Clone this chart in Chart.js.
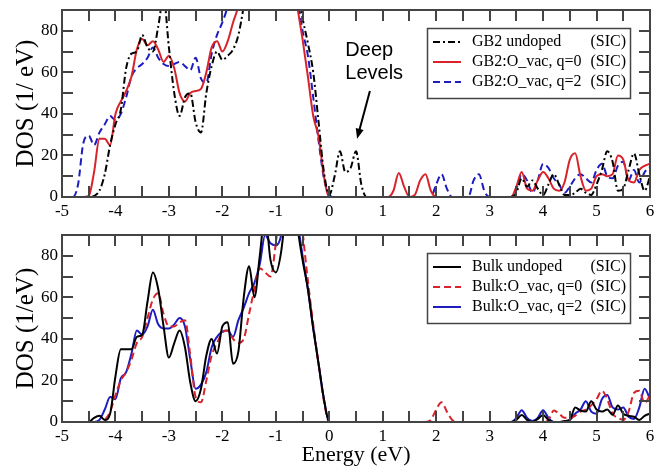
<!DOCTYPE html>
<html>
<head>
<meta charset="utf-8">
<title>DOS</title>
<script src="https://cdn.jsdelivr.net/npm/chart.js@4.4.1/dist/chart.umd.min.js"></script>
<style>
  html, body { margin: 0; padding: 0; background: #fff; }
  #wrap { position: relative; width: 668px; height: 466px; }
  canvas { position: absolute; left: 0; }
  #topChart { top: 0; }
  #bottomChart { top: 225px; }
</style>
</head>
<body>
<div id="wrap">
  <canvas id="topChart" width="668" height="225"></canvas>
  <canvas id="bottomChart" width="668" height="241"></canvas>
</div>
<script>
// Energy grid (eV), 0.1 eV steps from -5 to 6
const energy = Array.from({ length: 111 }, (_, i) => Math.round((-50 + i)) / 10);

const xTicks = [-5, -4, -3, -2, -1, 0, 1, 2, 3, 4, 5, 6];
const yTicks = [0, 20, 40, 60, 80];

// Grain boundary GB2 (top panel)
const gb2Undoped = [
  0, 0, 0, 0, 0, 0, 0.5, 3, 11, 25,
  35, 42, 62, 69, 70, 78, 72, 70, 82, 96,
  72, 50, 39, 48, 50, 36, 31, 50, 63, 70,
  66, 68, 71, 78, 92, 110, 125, 135, 140, 140,
  140, 140, 135, 125, 100, 86, 74, 60, 36, 12,
  1, 10, 22, 12, 14, 22, 6, 0, 0, 0,
  0, 0, 0, 0, 0, 0, 0, 0, 0, 0,
  0, 0, 0, 0, 0, 0, 0, 0, 0, 0,
  0, 0, 0, 0, 0, 2, 9, 5, 8, 4,
  1, 6, 11, 6, 1, 1, 2, 4, 2, 1,
  6, 13, 22, 17, 3, 4, 13, 21, 11, 3,
  10
];
const gb2VacQ0 = [
  0, 0, 0, 0, 0, 0.5, 12, 28, 28, 25,
  40, 46, 51, 58, 71, 76, 73, 75, 71, 65,
  68, 62, 50, 46, 50, 51, 52, 60, 72, 75,
  70, 75, 84, 92, 105, 120, 130, 135, 140, 140,
  140, 135, 125, 110, 92, 76, 58, 39, 29, 10,
  0, 0, 0, 0, 0, 0, 0, 0, 0, 0,
  0, 0, 3, 11.5, 5, 0, 1, 8, 11, 3,
  0, 0, 0, 0, 0, 0, 0, 0, 0, 0,
  0, 0, 0, 0, 0, 5, 12, 4, 3, 8,
  12, 9, 4, 3, 7, 18, 21, 10, 3, 4,
  10, 11, 10, 11, 20, 18, 8, 7, 13, 15,
  16
];
const gb2VacQ2 = [
  0, 0, 0, 6, 26, 29.5, 25, 31, 35, 39,
  37, 40, 48, 58, 62, 64, 67, 72, 67, 64,
  63, 64, 65, 63, 61, 67, 57, 55, 69, 78,
  84, 92, 105, 120, 130, 135, 140, 140, 140, 140,
  140, 135, 125, 112, 96, 80, 68, 48, 27, 9,
  1, 0, 0, 0, 0, 0, 0, 0, 0, 0,
  0, 0, 0, 0, 0, 0, 0, 0, 0, 0,
  6, 11, 4, 0, 0, 0, 0, 8, 11, 3,
  0, 0, 0, 0, 0, 4, 11, 8, 2, 8,
  16, 14, 9, 6, 2, 5, 9, 11, 9, 7,
  13, 16, 10, 9, 15, 17, 8, 13, 7, 12,
  14.5
];

// Bulk (bottom panel)
const bulkUndoped = [
  0, 0, 0, 0, 0, 0, 2, 3, 1, 4,
  22, 35, 35, 35, 41, 42, 58, 72, 64, 46,
  31, 38, 44, 36, 19, 10, 16, 32, 40, 33,
  46, 48, 28, 34, 60, 75, 60, 80, 100, 78,
  72, 82, 105, 120, 95, 78, 64, 45, 28, 11,
  0, 0, 0, 0, 0, 0, 0, 0, 0, 0,
  0, 0, 0, 0, 0, 0, 0, 0, 0, 0,
  0, 0, 0, 0, 0, 0, 0, 0, 0, 0,
  0, 0, 0, 0, 0, 1, 3.4, 1, 0, 1.5,
  3.4, 1, 0, 0, 0.5, 1, 7, 5.5, 5, 10,
  6, 5, 6, 3.5, 8, 4, 3, 2.5, 1, 3,
  4
];
const bulkVacQ0 = [
  0, 0, 0, 0, 0, 0, 0, 0, 1, 5,
  13, 20, 24, 30, 38, 41, 50, 59, 62, 52,
  46, 46, 48, 49, 32, 12, 9.5, 20, 32, 38,
  43, 44, 40, 38, 40, 52, 64, 74, 72, 70,
  86, 110, 130, 130, 118, 92, 68, 47, 28, 10,
  0, 0, 0, 0, 0, 0, 0, 0, 0, 0,
  0, 0, 0, 0, 0, 0, 0, 0, 0, 1,
  6, 9.5, 5, 1, 0, 0, 0, 0, 0, 0,
  0, 0, 0, 0, 0, 0, 0, 0, 0, 0,
  0, 1, 5.5, 4, 2, 2, 3, 5, 6, 8,
  11, 15, 11, 4, 2, 1, 5, 14, 15, 9,
  13
];
const bulkVacQ2 = [
  0, 0, 0, 0, 0, 0, 0, 1, 6, 12,
  11, 21, 24, 33, 44, 42, 46, 54, 47, 45,
  45, 47, 50, 46, 30, 16, 18, 24, 36, 41,
  43.5, 44, 41, 49, 55, 62, 67, 76, 90, 86,
  85, 90, 110, 120, 98, 80, 64, 45, 28, 11,
  0, 0, 0, 0, 0, 0, 0, 0, 0, 0,
  0, 0, 0, 0, 0, 0, 0, 0, 0, 0,
  0, 0, 0, 0, 0, 0, 0, 0, 0, 0,
  0, 0, 0, 0, 0, 2, 5.7, 2, 0.5, 2,
  5.7, 2, 0, 0, 0, 1, 4, 6, 10, 5,
  4, 11, 13, 7, 6, 7, 2.5, 1.5, 7, 16,
  11
];

const topLabels = ['GB2 undoped', 'GB2:O_vac, q=0', 'GB2:O_vac, q=2'];
const bottomLabels = ['Bulk undoped', 'Bulk:O_vac, q=0', 'Bulk:O_vac, q=2'];
const method = '(SIC)';

const SERIF = '"Liberation Serif", "Times New Roman", serif';
const SANS = '"Liberation Sans", Arial, sans-serif';
const RED = '#d8232a';
const BLUE = '#1c1cc0';
const FRAME = '#444';
const TICK_LEN = 11;

// tick mark positions: every 0.5 eV on x, every 10 on y
const xMarks = [];
for (let i = -9; i <= 11; i++) xMarks.push(i / 2);
const yMarks = [10, 20, 30, 40, 50, 60, 70, 80];

function toPoints(values) {
  return values.map((v, i) => ({ x: energy[i], y: v }));
}

function series(label, values, color, dash) {
  return {
    label: label,
    data: toPoints(values),
    borderColor: color,
    borderDash: dash,
    borderWidth: 2,
    pointRadius: 0,
    fill: false,
    cubicInterpolationMode: 'monotone'
  };
}

// Frame around the plot plus inward tick marks on all four sides
const frameTicks = {
  id: 'frameTicks',
  afterDraw(chart) {
    const ctx = chart.ctx;
    const a = chart.chartArea;
    const xs = chart.scales.x, ys = chart.scales.y;
    ctx.save();
    ctx.strokeStyle = FRAME;
    ctx.lineWidth = 2;
    ctx.strokeRect(a.left, a.top, a.right - a.left, a.bottom - a.top);
    ctx.fillStyle = FRAME;
    xMarks.forEach(v => {
      const px = Math.round(xs.getPixelForValue(v));
      ctx.fillRect(px - 1, a.bottom - TICK_LEN, 2, TICK_LEN);
      ctx.fillRect(px - 1, a.top, 2, TICK_LEN);
    });
    yMarks.forEach(v => {
      const py = Math.round(ys.getPixelForValue(v));
      ctx.fillRect(a.left, py - 1, TICK_LEN, 2);
      ctx.fillRect(a.right - TICK_LEN, py - 1, TICK_LEN, 2);
    });
    ctx.restore();
  }
};

// Boxed legend in the upper right, method tag right-aligned
const boxLegend = {
  id: 'boxLegend',
  afterDraw(chart) {
    const { ctx, chartArea: a } = chart;
    const w = 203, h = 70;
    const left = a.right - 20 - w, top = a.top + 18;
    ctx.save();
    ctx.fillStyle = '#fff';
    ctx.fillRect(left, top, w, h);
    ctx.strokeStyle = FRAME;
    ctx.lineWidth = 1.5;
    ctx.strokeRect(left + 0.5, top + 0.5, w, h);
    ctx.font = '16px ' + SERIF;
    ctx.textBaseline = 'middle';
    chart.data.datasets.forEach((ds, i) => {
      const cy = top + 14 + i * 20;
      ctx.strokeStyle = ds.borderColor;
      ctx.lineWidth = 2;
      ctx.setLineDash(ds.borderDash || []);
      ctx.beginPath();
      ctx.moveTo(left + 6, cy);
      ctx.lineTo(left + 34, cy);
      ctx.stroke();
      ctx.setLineDash([]);
      ctx.fillStyle = '#000';
      ctx.textAlign = 'left';
      ctx.fillText(ds.label, left + 45, cy);
      ctx.textAlign = 'right';
      ctx.fillText(method, left + w - 4, cy);
    });
    ctx.restore();
  }
};

// "Deep Levels" note with arrow, placed in data coordinates
const deepLevels = {
  id: 'deepLevels',
  afterDraw(chart) {
    const { ctx, scales: { x, y } } = chart;
    ctx.save();
    ctx.fillStyle = '#000';
    ctx.font = '20px ' + SANS;
    ctx.textAlign = 'left';
    ctx.textBaseline = 'alphabetic';
    ctx.fillText('Deep', x.getPixelForValue(0.3), y.getPixelForValue(68));
    ctx.fillText('Levels', x.getPixelForValue(0.3), y.getPixelForValue(57));
    const x0 = x.getPixelForValue(0.76), y0 = y.getPixelForValue(51);
    const x1 = x.getPixelForValue(0.52), y1 = y.getPixelForValue(28);
    const ang = Math.atan2(y1 - y0, x1 - x0);
    const head = 11;
    ctx.strokeStyle = '#000';
    ctx.lineWidth = 2;
    ctx.beginPath();
    ctx.moveTo(x0, y0);
    ctx.lineTo(x1 - Math.cos(ang) * head * 0.8, y1 - Math.sin(ang) * head * 0.8);
    ctx.stroke();
    ctx.beginPath();
    ctx.moveTo(x1, y1);
    ctx.lineTo(x1 - head * Math.cos(ang - 0.38), y1 - head * Math.sin(ang - 0.38));
    ctx.lineTo(x1 - head * Math.cos(ang + 0.38), y1 - head * Math.sin(ang + 0.38));
    ctx.closePath();
    ctx.fill();
    ctx.restore();
  }
};

function makeOptions(yTitle, xTitle, xHeight) {
  return {
    responsive: false,
    animation: false,
    layout: { padding: { top: 10, right: 18, left: 0, bottom: 0 } },
    plugins: { legend: { display: false }, tooltip: { enabled: false } },
    scales: {
      x: {
        type: 'linear',
        min: -5,
        max: 6,
        grid: { display: false, drawTicks: false },
        border: { display: false },
        ticks: {
          stepSize: 0.5,
          autoSkip: false,
          maxRotation: 0,
          padding: 4,
          color: '#000',
          font: { family: SERIF, size: 17 },
          callback: v => (xTicks.includes(v) ? String(v) : '')
        },
        title: {
          display: !!xTitle,
          text: xTitle || '',
          color: '#000',
          font: { family: SERIF, size: 22, lineHeight: 1 },
          padding: { top: 0, bottom: 0 }
        },
        afterFit: s => {
          s.height = xHeight;
          s.paddingLeft = 0;
          s.paddingRight = 0;
        }
      },
      y: {
        min: 0,
        max: 90,
        grid: { display: false, drawTicks: false },
        border: { display: false },
        ticks: {
          stepSize: 10,
          autoSkip: false,
          padding: 4,
          color: '#000',
          font: { family: SERIF, size: 17 },
          callback: v => (yTicks.includes(v) ? String(v) : '')
        },
        title: {
          display: true,
          text: yTitle,
          color: '#000',
          font: { family: SERIF, size: 25, lineHeight: 1 },
          padding: { top: 14, bottom: 0 }
        },
        afterFit: s => {
          s.width = 62;
          s.paddingTop = 0;
          s.paddingBottom = 0;
        }
      }
    }
  };
}

new Chart(document.getElementById('topChart'), {
  type: 'line',
  data: {
    datasets: [
      series(topLabels[0], gb2Undoped, '#000', [7, 3, 2, 3]),
      series(topLabels[1], gb2VacQ0, RED, []),
      series(topLabels[2], gb2VacQ2, BLUE, [7, 4])
    ]
  },
  options: makeOptions('DOS (1/ eV)', null, 28),
  plugins: [frameTicks, boxLegend, deepLevels]
});

new Chart(document.getElementById('bottomChart'), {
  type: 'line',
  data: {
    datasets: [
      series(bottomLabels[0], bulkUndoped, '#000', []),
      series(bottomLabels[1], bulkVacQ0, RED, [7, 4]),
      series(bottomLabels[2], bulkVacQ2, BLUE, [])
    ]
  },
  options: makeOptions('DOS (1/eV)', 'Energy (eV)', 44),
  plugins: [frameTicks, boxLegend]
});
</script>
</body>
</html>
